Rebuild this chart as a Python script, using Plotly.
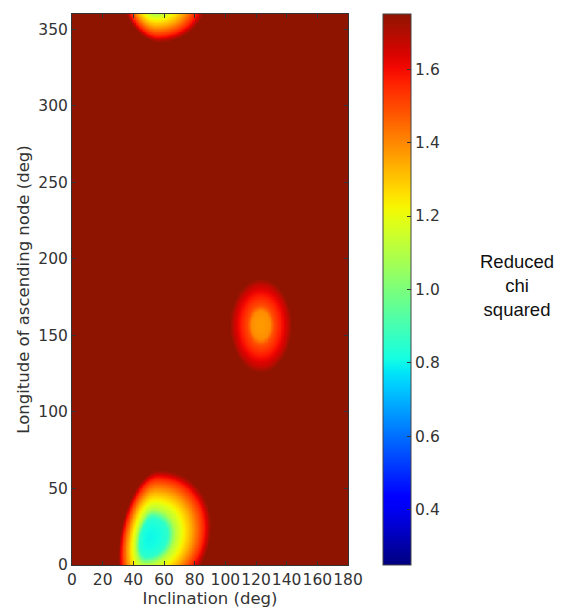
import numpy as np
import plotly.graph_objects as go

# ---- data ----
inclination = np.arange(0, 180.5, 0.5)          # x grid (deg)
longitude = np.arange(0, 361, 1.0)              # y grid (deg)

# chi-squared minima: centre, minimum value, extent (where value reaches the top
# of the colour range) on each side
blob_cx = [50, 123, 52]
blob_cy = [18, 157, 372]
blob_vmin = [0.80, 1.37, 0.85]
blob_rx_left = [19, 20, 20]
blob_rx_right = [40, 20, 34]
blob_ry_down = [42, 31, 30]
blob_ry_up = [44, 30, 31]
blob_skew = [0.15, 0.0, -0.15]

# radial profile of the wells (fraction of the rise from minimum to the top of the scale)
profile_rho = [0.0, 0.15, 0.30, 0.42, 0.67, 0.88, 1.0]
profile_frac = [0.0, 0.012, 0.06, 0.32, 0.56, 0.80, 1.0]

x_ticks = [0, 20, 40, 60, 80, 100, 120, 140, 160, 180]
y_ticks = [0, 50, 100, 150, 200, 250, 300, 350]
cbar_ticks = [0.4, 0.6, 0.8, 1.0, 1.2, 1.4, 1.6]
zmin, zmax = 0.25, 1.75

# ---- build the surface ----
X, Y = np.meshgrid(inclination, longitude)
Z = np.full(X.shape, 5.0)
for i in range(len(blob_cx)):
    dy = Y - blob_cy[i]
    dx = X - blob_cx[i] - blob_skew[i] * dy
    rx = np.where(dx < 0, blob_rx_left[i], blob_rx_right[i])
    ry = np.where(dy < 0, blob_ry_down[i], blob_ry_up[i])
    rho = np.sqrt((dx / rx) ** 2 + (dy / ry) ** 2)
    g = np.interp(rho, profile_rho, profile_frac)
    well = np.where(rho <= 1, blob_vmin[i] + (zmax - blob_vmin[i]) * g, 5.0)
    Z = np.minimum(Z, well)
Z = np.minimum(Z, zmax)

# ---- matplotlib "jet" colormap ----
def jet(t):
    r = np.interp(t, [0, 0.35, 0.66, 0.89, 1], [0, 0, 1, 1, 0.56])
    g = np.interp(t, [0, 0.125, 0.375, 0.64, 0.91, 1], [0, 0, 1, 1, 0, 0.08])
    b = np.interp(t, [0, 0.11, 0.34, 0.65, 1], [0.5, 1, 1, 0, 0])
    return "rgb(%d,%d,%d)" % (round(r * 255), round(g * 255), round(b * 255))

stops = np.linspace(0, 1, 41)
colorscale = [[float(s), jet(s)] for s in stops]

tick_font = dict(family="DejaVu Sans", size=15.5, color="#333")
title_font = dict(family="DejaVu Sans", size=16.5, color="#333")

fig = go.Figure()
fig.add_trace(go.Heatmap(
    x=inclination, y=longitude, z=Z,
    zmin=zmin, zmax=zmax, colorscale=colorscale, zsmooth="best",
    colorbar=dict(
        x=(383 - 72) / 276, xanchor="left", xref="paper",
        y=0, yanchor="bottom", len=1, lenmode="fraction",
        thickness=28, thicknessmode="pixels",
        outlinewidth=1, outlinecolor="#444",
        ticks="inside", ticklen=4, tickcolor="#333",
        tickvals=cbar_ticks, ticktext=["%.1f" % v for v in cbar_ticks],
        tickfont=tick_font,
        xpad=0, ypad=0,
    ),
))

axis_common = dict(
    showline=True, linecolor="#333", linewidth=1, mirror="ticks",
    ticks="inside", ticklen=4, tickcolor="#333", showgrid=False, zeroline=False,
    tickfont=tick_font, automargin=False,
)
fig.update_xaxes(range=[0, 180], tickvals=x_ticks, ticktext=[str(v) for v in x_ticks],
                 tickangle=0,
                 title=dict(text="Inclination (deg)", standoff=3, font=title_font),
                 **axis_common)
fig.update_yaxes(range=[0, 360], tickvals=y_ticks, ticktext=[str(v) for v in y_ticks],
                 title=dict(text="Longitude of ascending node (deg)", standoff=4, font=title_font),
                 **axis_common)

fig.add_annotation(text="Reduced<br>chi<br>squared", xref="paper", yref="paper",
                   x=(517 - 72) / 276, y=(565 - 285) / 551, xanchor="center", yanchor="middle",
                   showarrow=False, align="center",
                   font=dict(family="Liberation Sans", size=18.5, color="#111"))

fig.update_layout(
    width=563, height=609,
    margin=dict(l=72, r=215, t=14, b=44),
    paper_bgcolor="white", plot_bgcolor="white",
)

fig.write_html("out.html")
